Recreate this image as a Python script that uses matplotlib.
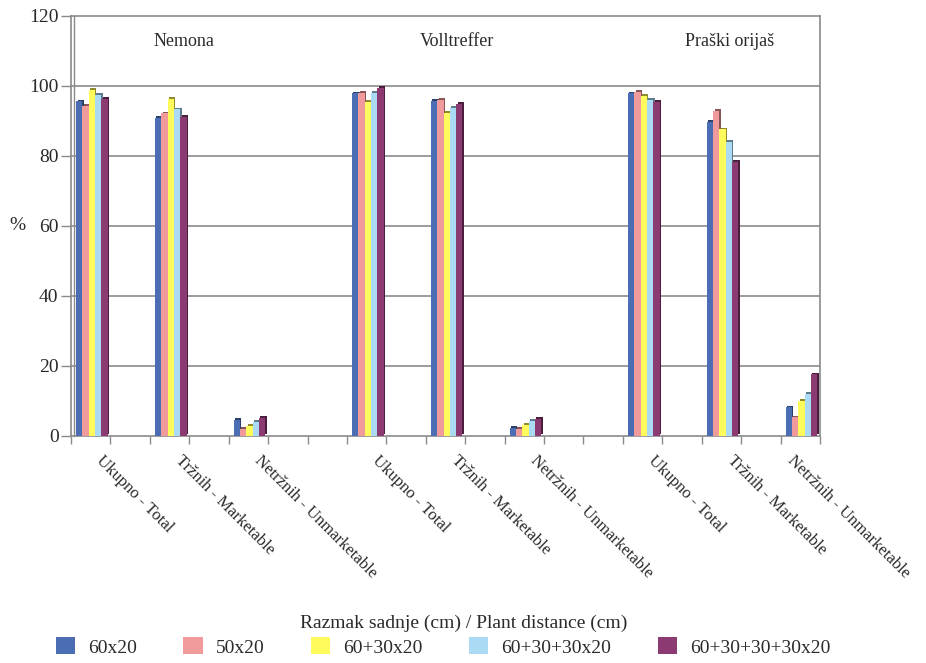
import numpy as np
import matplotlib
matplotlib.use("Agg")
import matplotlib.pyplot as plt
from matplotlib.patches import Patch
from matplotlib.transforms import ScaledTranslation

plt.rcParams['font.family'] = ['Liberation Serif', 'DejaVu Serif']

# ---------------- data ----------------
varieties = ["Nemona", "Volltreffer", "Praški orijaš"]
measures = ["Ukupno - Total", "Tržnih - Marketable", "Netržnih - Unmarketable"]
series_names = ["60x20", "50x20", "60+30x20", "60+30+30x20", "60+30+30+30x20"]
colors = ["#4a6db3", "#f09a9c", "#fffb5c", "#abdaf5", "#8b3a72"]
shadow_colors = ["#2a3f6a", "#8a5558", "#8f8c30", "#5f7c8c", "#4a1e3c"]

# values[series][variety*3 + measure]
s_60x20          = [95.6, 91.0, 4.7, 97.9, 95.7, 2.3, 97.9, 89.8, 8.2]
s_50x20          = [94.3, 92.2, 2.1, 98.1, 96.0, 2.1, 98.4, 93.0, 5.3]
s_60_30x20       = [99.0, 96.3, 2.8, 95.5, 92.4, 3.2, 97.1, 87.6, 10.0]
s_60_30_30x20    = [97.4, 93.3, 4.0, 98.1, 93.8, 4.3, 96.0, 84.1, 12.0]
s_60_30_30_30x20 = [96.4, 91.2, 5.2, 99.5, 95.0, 4.8, 95.5, 78.4, 17.6]
series = [s_60x20, s_50x20, s_60_30x20, s_60_30_30x20, s_60_30_30_30x20]

# category slots (19 slots, labelled ones carry bars)
slot_positions = [0, 2, 4, 7, 9, 11, 14, 16, 18]
n_slots = 19
yticks = [0, 20, 40, 60, 80, 100, 120]

# ---------------- figure ----------------
W, H = 926, 663
fig = plt.figure(figsize=(W / 100, H / 100), dpi=100)
ax = fig.add_axes([71 / W, (H - 436) / H, (820 - 71) / W, (436 - 16) / H])

grid_col = "#8a8a8a"
txt_col = "#2a2a2a"

x = np.array(slot_positions, dtype=float)
bw = 0.16
for j, vals in enumerate(series):
    xs = x + (j - 2) * bw + 0.03
    ax.bar(xs + 0.035, vals, width=bw, bottom=0.5, color=shadow_colors[j],
           linewidth=0, zorder=2 + 2 * j)
    ax.bar(xs, vals, width=bw, color=colors[j], linewidth=0, zorder=3 + 2 * j)

ax.set_xlim(-0.5, n_slots - 0.5)
ax.set_ylim(0, 120)
ax.set_yticks(yticks)
ax.set_yticklabels([str(t) for t in yticks], fontsize=14, color=txt_col)
ax.set_xticks(np.arange(-0.5, n_slots, 1.0))
ax.set_xticklabels([])
ax.tick_params(axis='y', length=7, width=1, color=grid_col, pad=2)
ax.tick_params(axis='x', length=6, width=1, color=grid_col)

for t in yticks[1:-1]:
    ax.axhline(t, color=grid_col, linewidth=1.2, zorder=1)
for sp in ax.spines.values():
    sp.set_color(grid_col)
    sp.set_linewidth(1.2)
ax.plot([0.004, 0.004], [0, 1], transform=ax.transAxes, color=grid_col,
        linewidth=1.0, clip_on=False, zorder=1)

# rotated category labels
base = ax.get_xaxis_transform()
n_lab = len(slot_positions)
for i, pos in enumerate(slot_positions):
    dx = 8 if i < n_lab - 1 else -10
    tr = base + ScaledTranslation(dx / 100, -22 / 100, fig.dpi_scale_trans)
    ax.text(pos, 0, measures[i % 3], transform=tr, rotation=-45,
            rotation_mode='anchor', ha='left', va='center',
            fontsize=12, color=txt_col)

# variety titles
title_x = [2.36, 9.28, 16.2]
for name, tx in zip(varieties, title_x):
    ax.text(tx, 112.6, name, ha='center', va='center', fontsize=13, color=txt_col)

fig.text(17 / W, 1 - 225 / H, "%", ha='center', va='center', fontsize=14, color=txt_col)

# legend
fig.text(464 / W, 1 - 623 / H, "Razmak sadnje (cm) / Plant distance (cm)",
         ha='center', va='center', fontsize=14, color=txt_col)
handles = [Patch(facecolor=c, edgecolor='none') for c in colors]
leg = fig.legend(handles, series_names, ncol=5, loc='center',
                 bbox_to_anchor=(443 / W, 1 - 647 / H), frameon=False,
                 fontsize=14, handlelength=0.98, handleheight=0.95,
                 handletextpad=0.67, columnspacing=2.4)
for t in leg.get_texts():
    t.set_color(txt_col)

fig.savefig("out.png", dpi=100, facecolor='white')
